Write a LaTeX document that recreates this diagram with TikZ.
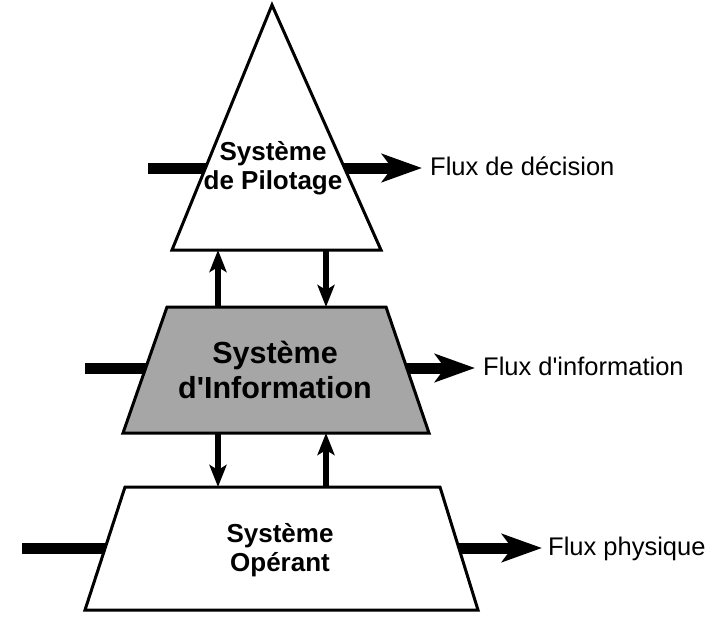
\documentclass[tikz,border=0pt]{standalone}
\usepackage{fontspec}
\setmainfont{Liberation Sans}
\usetikzlibrary{arrows.meta}

\definecolor{infogray}{RGB}{166,166,166}

\tikzset{
  bloc/.style={draw=black, line width=3pt, line join=miter},
  flux/.style={line width=11pt, -{Stealth[length=40pt,width=28pt,inset=10pt]}},
  lien/.style={line width=6pt, -{Stealth[length=22pt,width=17pt,inset=5pt]}},
  titre/.style={font=\bfseries\fontsize{26}{29}\selectfont, align=center},
  grandtitre/.style={font=\bfseries\fontsize{30.5}{35}\selectfont, align=center},
  legende/.style={anchor=base west, inner sep=0pt, font=\fontsize{25.5}{28}\selectfont}
}

\begin{document}
\begin{tikzpicture}[x=1pt, y=-1pt]
  \useasboundingbox (0,0) rectangle (721,630);

  % flux horizontaux, sous les blocs
  \coordinate (decA) at (148,168);
  \coordinate (decB) at (422,168);
  \coordinate (infA) at (85,368);
  \coordinate (infB) at (475,368);
  \coordinate (phyA) at (22,548);
  \coordinate (phyB) at (542,548);
  \draw[flux] (decA) -- (decB);
  \draw[flux] (infA) -- (infB);
  \draw[flux] (phyA) -- (phyB);

  % les trois blocs
  \draw[bloc, fill=white] (272,5) -- (381,250) -- (172,250) -- cycle;
  \draw[bloc, fill=infogray] (167,307) -- (386,307) -- (429,433) -- (123,433) -- cycle;
  \draw[bloc, fill=white] (125,487) -- (440,487) -- (478,610) -- (85,610) -- cycle;

  \node[titre] (pilotage) at (273,168) {Système\\de Pilotage};
  \node[grandtitre] (information) at (275,370) {Système\\d\textquotesingle Information};
  \node[titre] (operant) at (280,550) {Système\\Opérant};

  % liens verticaux entre blocs
  \coordinate (piloteBasG) at (218,250);
  \coordinate (piloteBasD) at (326,250);
  \coordinate (infoHautG) at (218,307);
  \coordinate (infoHautD) at (326,307);
  \coordinate (infoBasG) at (218,433);
  \coordinate (infoBasD) at (326,433);
  \coordinate (operHautG) at (218,487);
  \coordinate (operHautD) at (326,487);
  \draw[lien] (infoHautG) -- (piloteBasG);
  \draw[lien] (piloteBasD) -- (infoHautD);
  \draw[lien] (infoBasG) -- (operHautG);
  \draw[lien] (operHautD) -- (infoBasD);

  % legendes
  \node[legende] (decision) at (430,175) {Flux de décision};
  \node[legende] (infoflux) at (483,375) {Flux d\textquotesingle information};
  \node[legende] (physique) at (548,555) {Flux physique};
\end{tikzpicture}
\end{document}
